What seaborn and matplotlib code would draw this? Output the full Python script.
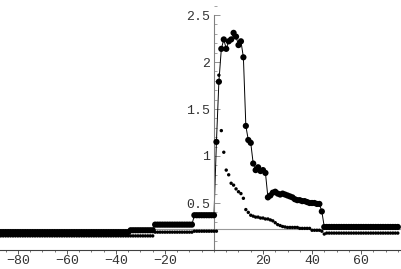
import matplotlib
matplotlib.use('Agg')
import matplotlib.pyplot as plt
import seaborn as sns
import pandas as pd
from matplotlib.ticker import MultipleLocator

# x positions (one sample per unit)
x = list(range(-87, 76))

# big dots, joined by a thin line
series_a = ([0.19] * 53 + [0.21] * 10 + [0.27] * 16 + [0.37] * 9 +
            [1.15, 1.79, 2.14, 2.24, 2.14, 2.22, 2.24, 2.31, 2.27, 2.18, 2.22, 2.05,
             1.32, 1.17, 1.14, 0.92, 0.85, 0.88, 0.84, 0.85, 0.82,
             0.56, 0.58, 0.61, 0.62, 0.60, 0.59, 0.60, 0.59, 0.58, 0.57, 0.56, 0.54,
             0.53, 0.53, 0.52, 0.52, 0.51, 0.50, 0.50, 0.50, 0.49, 0.49, 0.41] +
            [0.245] * 31)

# small dots only
series_b = ([0.15] * 63 + [0.19] * 16 + [0.20] * 10 +
            [1.86, 1.27, 1.04, 0.85, 0.80, 0.71, 0.69, 0.65, 0.62, 0.60, 0.55,
             0.43, 0.40, 0.37, 0.36, 0.35, 0.35, 0.34, 0.34, 0.33, 0.33, 0.32, 0.31,
             0.29, 0.27, 0.26, 0.25, 0.245, 0.24, 0.24, 0.24, 0.24, 0.24,
             0.23, 0.23, 0.23, 0.23, 0.23, 0.21, 0.21, 0.21, 0.21, 0.20, 0.17] +
            [0.18] * 30)

ref_level = 0.22

df = pd.DataFrame({'x': x, 'a': series_a, 'b': series_b})

sns.set_style('white')
plt.rcParams['font.family'] = ['Liberation Mono', 'DejaVu Sans']

fig = plt.figure(figsize=(4.01, 2.69), dpi=100)
ax = fig.add_axes([0, 19 / 269, 1, 244.4 / 269])

ax.axhline(ref_level, color='#999999', lw=0.8, zorder=1)
sns.lineplot(data=df, x='x', y='a', color='black', lw=0.7, ax=ax, zorder=2)
sns.scatterplot(data=df, x='x', y='a', color='black', s=20, edgecolor='none', ax=ax, zorder=3)
sns.scatterplot(data=df, x='x', y='b', color='black', s=6, edgecolor='none', ax=ax, zorder=3)

ax.set_xlim(-87.3, 76.3)
ax.set_ylim(0, 2.6)
ax.set_xlabel('')
ax.set_ylabel('')

for s in ['top', 'right']:
    ax.spines[s].set_visible(False)
ax.spines['left'].set_position(('data', 0))
ax.spines['left'].set_bounds(0, 2.5)
ax.spines['left'].set_color('#808080')
ax.spines['left'].set_linewidth(0.8)
ax.spines['bottom'].set_color('#404040')
ax.spines['bottom'].set_linewidth(0.8)

ax.set_xticks([-80, -60, -40, -20, 20, 40, 60])
ax.xaxis.set_minor_locator(MultipleLocator(5))
ax.set_yticks([0.5, 1, 1.5, 2, 2.5])
ax.set_yticklabels(['0.5', '1', '1.5', '2', '2.5'])
ax.yaxis.set_minor_locator(MultipleLocator(0.1))
ax.tick_params(axis='x', which='major', direction='out', length=3, width=0.6,
               color='#404040', labelsize=9.5, labelcolor='#333333', pad=0.5)
ax.tick_params(axis='x', which='minor', direction='out', length=1.5, width=0.5, color='#404040')
ax.tick_params(axis='y', which='major', direction='in', length=4, width=0.6,
               color='#808080', labelsize=9.5, labelcolor='#333333', pad=3)
ax.tick_params(axis='y', which='minor', direction='in', length=2, width=0.5, color='#808080')
ax.tick_params(left=True, bottom=True, which='both')

fig.savefig('out.png', dpi=100)
